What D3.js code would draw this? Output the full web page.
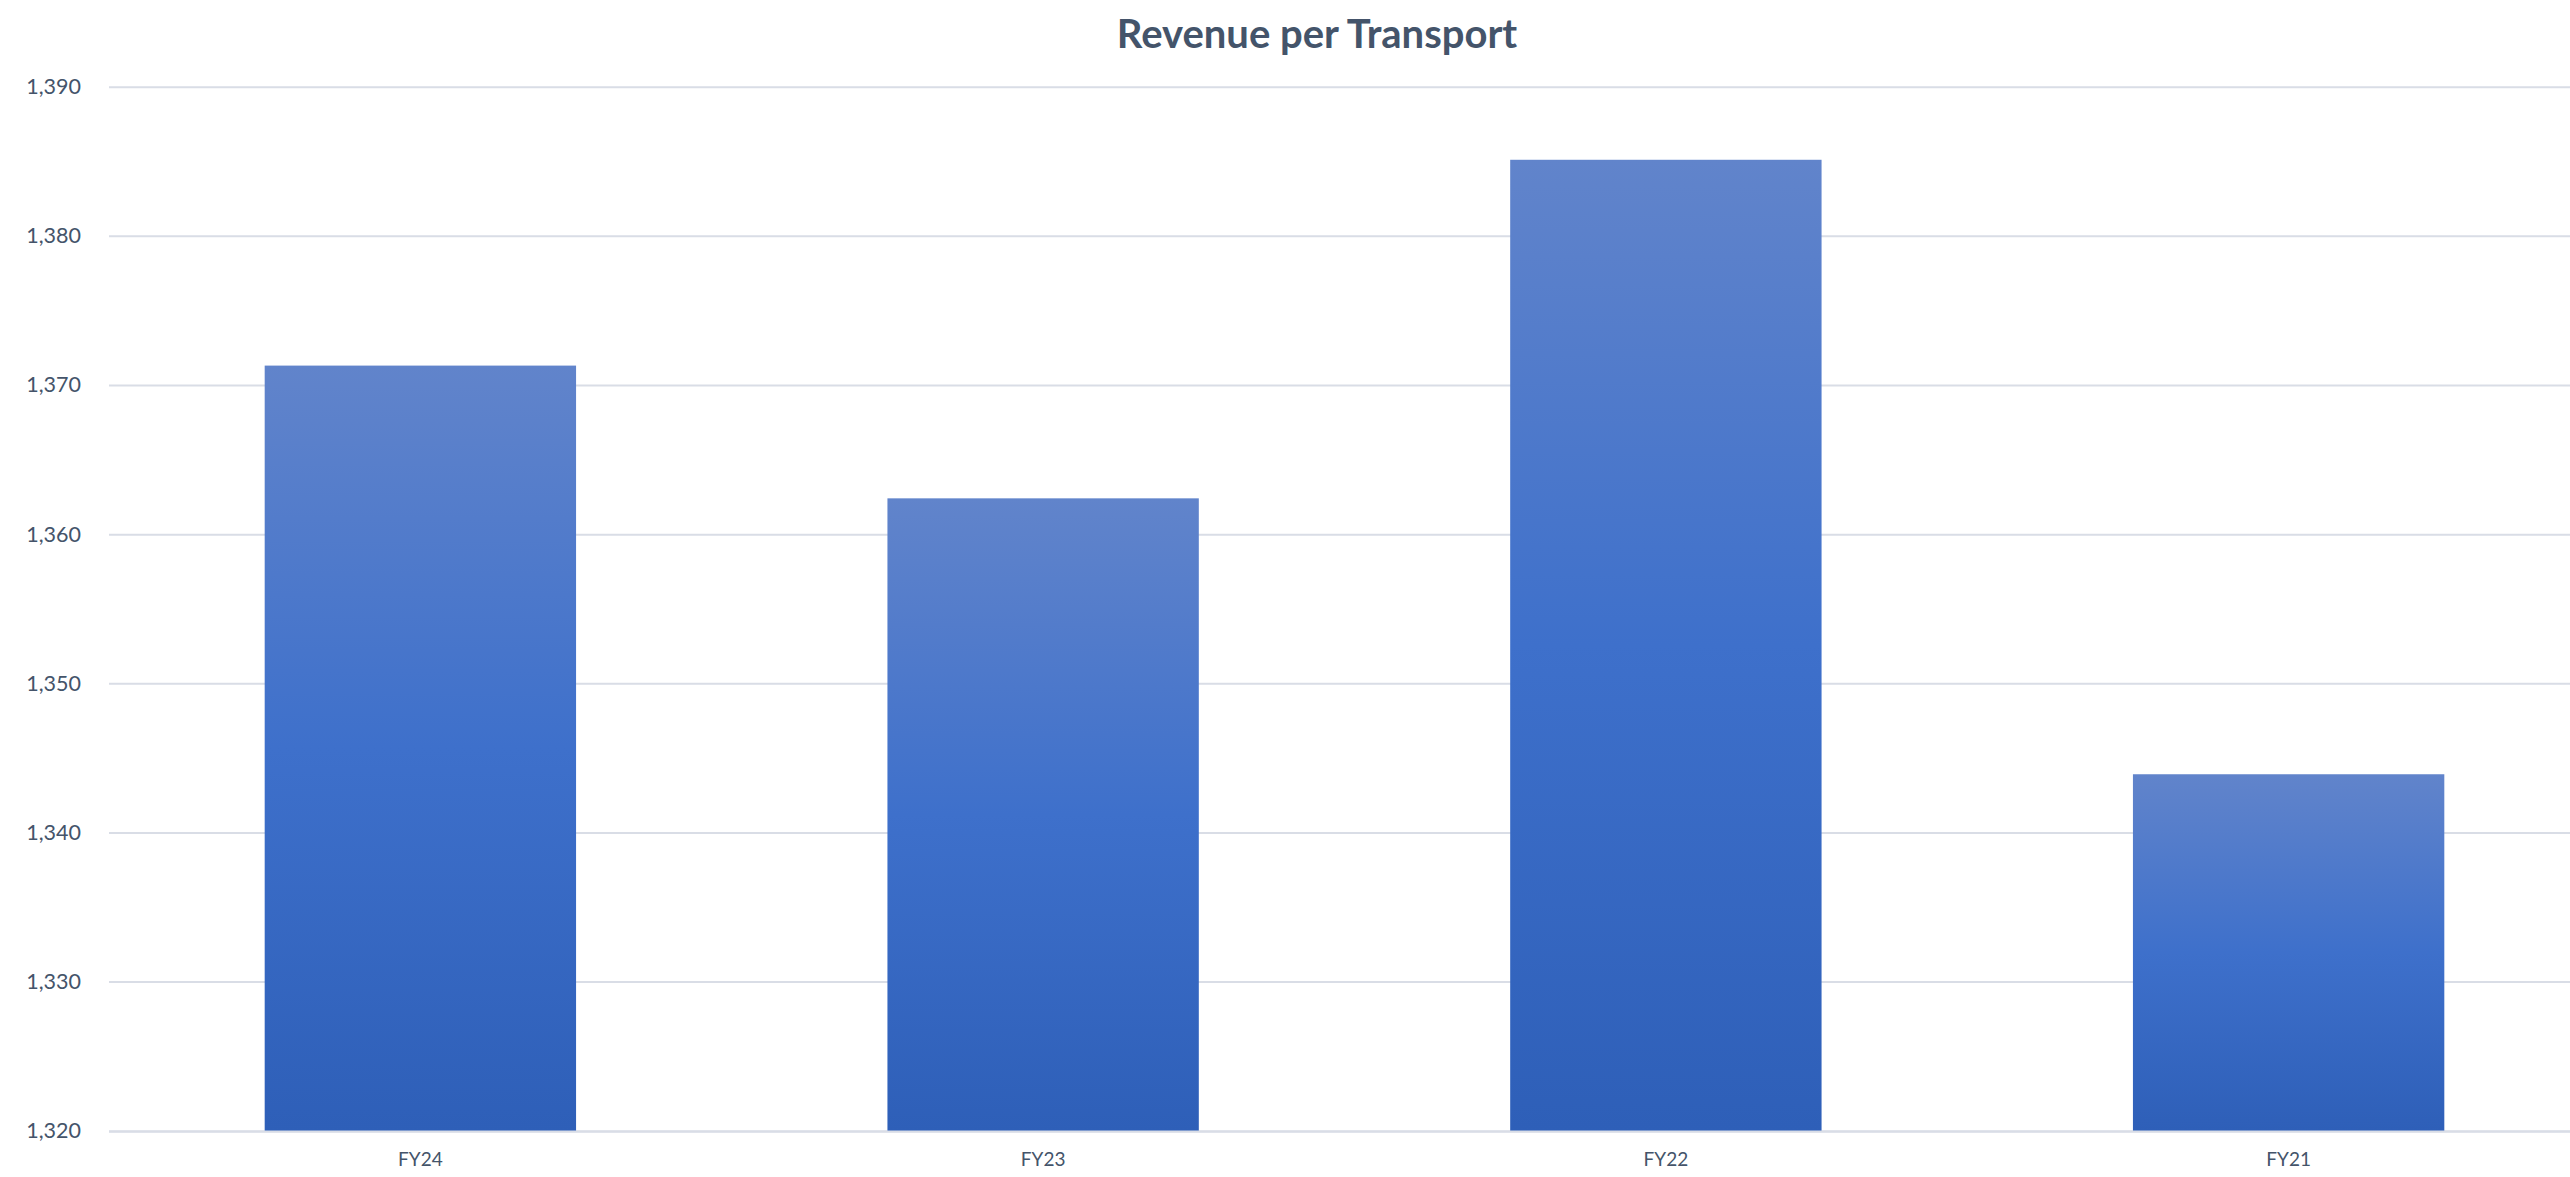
<!DOCTYPE html>
<html>
<head>
<meta charset="utf-8">
<script src="https://cdn.jsdelivr.net/npm/d3@7"></script>
<style>
  html, body { margin: 0; padding: 0; background: #fff; overflow: hidden; }
  svg { display: block; }
</style>
</head>
<body>
<svg id="chart" width="2570" height="1177"></svg>
<script>
const categories = ["FY24", "FY23", "FY22", "FY21"];
const values = [1371.3, 1362.4, 1385.1, 1343.9];
const yTicks = [1320, 1330, 1340, 1350, 1360, 1370, 1380, 1390];
const title = "Revenue per Transport";

const W = 2570, H = 1177;
const margin = { left: 109, right: -30, top: 86.7, bottom: H - 1130.7 };
const svg = d3.select("#chart");
const textColor = "#44546A";
const fontFam = "Lato, 'Open Sans', sans-serif";

const x = d3.scaleBand()
  .domain(categories)
  .range([margin.left, W - margin.right])
  .paddingInner(0.5)
  .paddingOuter(0.25);

const y = d3.scaleLinear()
  .domain([1320, 1390])
  .range([H - margin.bottom, margin.top]);

// gradient
const defs = svg.append("defs");
const grad = defs.append("linearGradient")
  .attr("id", "barGrad")
  .attr("x1", 0).attr("y1", 0).attr("x2", 0).attr("y2", 1);
grad.append("stop").attr("offset", "0%").attr("stop-color", "#6184CB");
grad.append("stop").attr("offset", "50%").attr("stop-color", "#3E70CB");
grad.append("stop").attr("offset", "100%").attr("stop-color", "#2E5FB8");

// gridlines
const yAxis = d3.axisLeft(y)
  .tickValues(yTicks)
  .tickSize(-(W - margin.left))
  .tickPadding(28)
  .tickFormat(d3.format(",.0f"));

const gy = svg.append("g")
  .attr("transform", `translate(${margin.left},0)`)
  .call(yAxis);
gy.select(".domain").remove();
gy.selectAll(".tick line").attr("stroke", "#D9DDE6").attr("stroke-width", 2);
gy.selectAll(".tick text")
  .attr("fill", textColor)
  .attr("font-family", fontFam)
  .attr("font-size", 21.5);

// bars
svg.append("g").selectAll("rect")
  .data(categories)
  .join("rect")
  .attr("x", d => x(d))
  .attr("width", x.bandwidth())
  .attr("y", (d, i) => y(values[i]))
  .attr("height", (d, i) => y(1320) - y(values[i]))
  .attr("fill", "url(#barGrad)");

// baseline
svg.append("line")
  .attr("x1", margin.left).attr("x2", W)
  .attr("y1", y(1320) + 1).attr("y2", y(1320) + 1)
  .attr("stroke", "#D9DDE6").attr("stroke-width", 2);

// x axis labels
const xAxis = d3.axisBottom(x).tickSize(0).tickPadding(22);
const gx = svg.append("g")
  .attr("transform", `translate(0,${y(1320)})`)
  .call(xAxis);
gx.select(".domain").remove();
gx.selectAll(".tick text")
  .attr("fill", textColor)
  .attr("font-family", fontFam)
  .attr("font-size", 19);

// title
svg.append("text")
  .attr("x", 1317)
  .attr("y", 48)
  .attr("text-anchor", "middle")
  .attr("fill", textColor)
  .attr("font-family", fontFam)
  .attr("font-weight", "bold")
  .attr("font-size", 40)
  .text(title);
</script>
</body>
</html>
